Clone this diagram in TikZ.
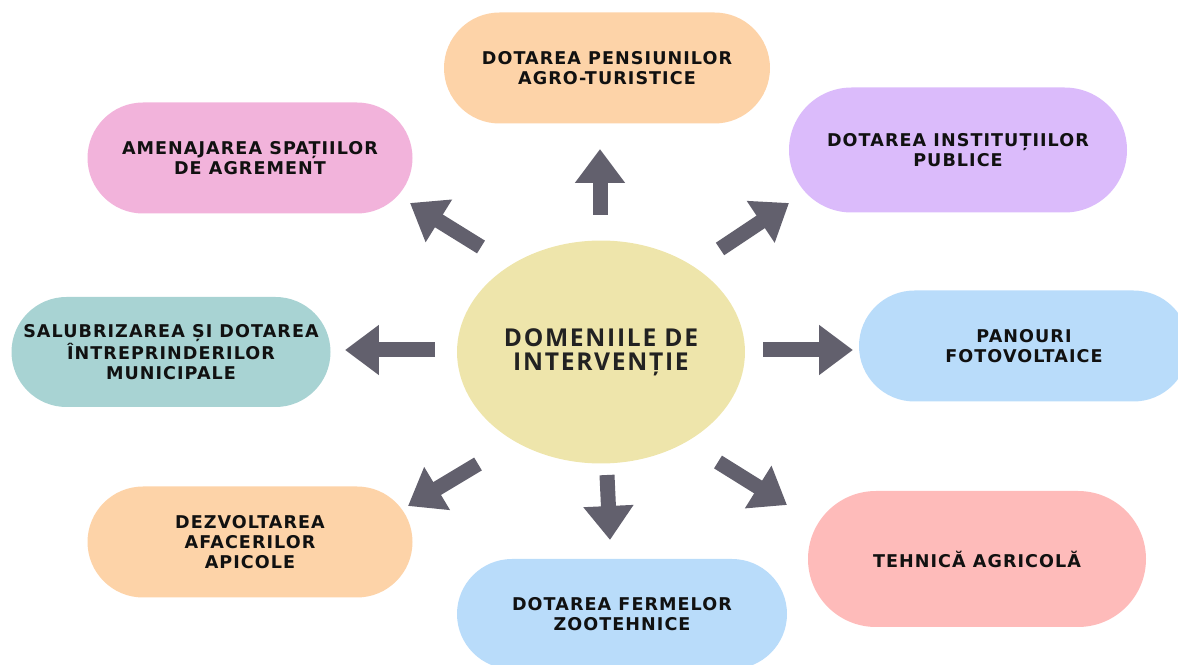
\documentclass[tikz,border=0pt]{standalone}
\usepackage{fontspec}
\setmainfont{DejaVu Sans}
\newfontfamily\boxfont[LetterSpace=6]{DejaVu Sans}
\newfontfamily\hubfont[LetterSpace=7]{Open Sans}
\usetikzlibrary{shapes.geometric,shapes.misc,arrows.meta}
\definecolor{peach}{HTML}{FDD3A8}
\definecolor{pink}{HTML}{F2B3DB}
\definecolor{lavender}{HTML}{DBBBFB}
\definecolor{teal}{HTML}{A8D3D3}
\definecolor{skyBlue}{HTML}{B9DCFA}
\definecolor{salmon}{HTML}{FEBBBA}
\definecolor{hubYellow}{HTML}{EEE5AB}
\definecolor{arrowGrey}{HTML}{62606D}
\definecolor{inkBlack}{HTML}{111111}
\definecolor{hubText}{HTML}{222222}
\begin{document}
\begin{tikzpicture}
[x=0.02cm,y=-0.02cm,
  nodeDecorate/.style={shape=rounded rectangle,fill=#1,inner sep=0pt,align=center,
    font=\boxfont\bfseries\fontsize{10}{11.2}\selectfont,text=inkBlack},
  hubDecorate/.style={shape=ellipse,fill=hubYellow,inner sep=0pt,minimum width=5.76cm,
    minimum height=4.46cm,align=center,font=\hubfont\bfseries\fontsize{14}{13.6}\selectfont,text=hubText},
  arrowDecorate/.style={-{Triangle[width=0.96cm,length=0.68cm]},line width=0.3cm,draw=arrowGrey}]
\useasboundingbox (0,0) rectangle (1178,665);
\clip (0,0) rectangle (1178,665);
%% centre
\node (hub) at (601,352) [hubDecorate] {DOMENIILE DE\\INTERVENȚIE};
%% boxes
\foreach \nodename/\x/\y/\w/\h/\col/\txt in {
  pens/607/68/326/111/peach/{DOTAREA PENSIUNILOR\\AGRO-TURISTICE},
  agre/250/158/325/111/pink/{AMENAJAREA SPAȚIILOR\\DE AGREMENT},
  inst/958/150/338/125/lavender/{DOTAREA INSTITUȚIILOR\\PUBLICE},
  salu/171/352/319/110/teal/{SALUBRIZAREA ȘI DOTAREA\\ÎNTREPRINDERILOR\\MUNICIPALE},
  pano/1024/346/330/111/skyBlue/{PANOURI\\FOTOVOLTAICE},
  apic/250/542/325/111/peach/{DEZVOLTAREA\\AFACERILOR\\APICOLE},
  zoot/622/614/330/110/skyBlue/{DOTAREA FERMELOR\\ZOOTEHNICE},
  tehn/977/559/338/136/salmon/{TEHNICĂ AGRICOLĂ}}
{
  \node (\nodename) at (\x,\y) [nodeDecorate=\col,minimum width=\w*0.02cm,minimum height=\h*0.02cm] {\txt};
}
%% arrows
\foreach \arrowname/\xa/\ya/\xb/\yb in {
  up/600/215/600/149, upleft/481/247/410/203, upright/720/249/789/203,
  left/435/350/345/350, right/763/350/853/350, downleft/478/464/408/506,
  down/607/475/610/540, downright/718/462/787/505}
{
  \coordinate (\arrowname-tail) at (\xa,\ya);
  \coordinate (\arrowname-tip) at (\xb,\yb);
  \draw[arrowDecorate] (\arrowname-tail) -- (\arrowname-tip);
}
\end{tikzpicture}
\end{document}
